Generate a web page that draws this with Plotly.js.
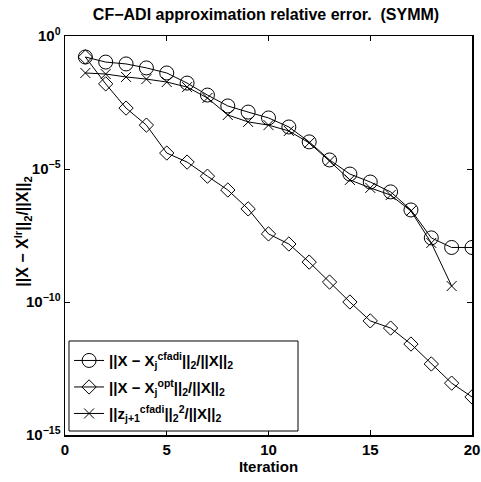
<!DOCTYPE html>
<html>
<head>
<meta charset="utf-8">
<script src="https://cdn.plot.ly/plotly-3.0.1.min.js"></script>
<style>html,body{margin:0;padding:0;background:#fff;}#chart{width:481px;height:482px;}</style>
</head>
<body>
<div id="chart"></div>
<script>
// Iterations
const iterations = [1,2,3,4,5,6,7,8,9,10,11,12,13,14,15,16,17,18,19,20];
const iterationsZ = [1,2,3,4,5,6,7,8,9,10,11,12,13,14,15,16,17,18,19];
// log10 of relative errors
const log10Cfadi = [-0.79,-0.98,-1.05,-1.20,-1.39,-1.77,-2.22,-2.63,-2.86,-3.08,-3.42,-3.98,-4.66,-5.19,-5.49,-5.86,-6.54,-7.59,-7.95,-7.95];
const log10Opt   = [-0.79,-1.80,-2.71,-3.35,-4.40,-4.74,-5.27,-5.79,-6.50,-7.44,-7.82,-8.50,-9.25,-10.00,-10.71,-10.98,-11.58,-12.33,-13.05,-13.57];
const log10Z     = [-1.39,-1.43,-1.54,-1.62,-1.73,-1.92,-2.33,-2.97,-3.23,-3.35,-3.57,-4.02,-4.70,-5.41,-5.71,-5.98,-6.58,-7.78,-9.40];
const seriesNames = [
  '||X − X<sub>j</sub><sup>cfadi</sup>||<sub>2</sub>/||X||<sub>2</sub>',
  '||X − X<sub>j</sub><sup>opt</sup>||<sub>2</sub>/||X||<sub>2</sub>',
  '||z<sub>j+1</sub><sup>cfadi</sup>||<sub>2</sub><sup>2</sup>/||X||<sub>2</sub>'
];
const yTickVals = [1e0, 1e-5, 1e-10, 1e-15];
const yTickText = ['10<sup>0</sup>', '10<sup>−5</sup>', '10<sup>−10</sup>', '10<sup>−15</sup>'];
const xTickVals = [0,5,10,15,20];

const toVal = a => a.map(v => Math.pow(10, v));
const font = {family: '"Liberation Sans", Arial, sans-serif', color: '#000'};

const traces = [
  {x: iterations, y: toVal(log10Cfadi), name: seriesNames[0], legendgroup: 'a', mode: 'lines+markers',
   line: {color: '#000', width: 1},
   marker: {symbol: 'circle-open', size: 14, color: '#000', line: {width: 1, color: '#000'}}},
  {x: iterations, y: toVal(log10Opt), name: seriesNames[1], legendgroup: 'b', mode: 'lines+markers',
   line: {color: '#000', width: 1},
   marker: {symbol: 'diamond-open', size: 11, color: '#000', line: {width: 1, color: '#000'}}},
  {x: iterationsZ, y: toVal(log10Z), name: seriesNames[2], legendgroup: 'c', mode: 'lines+markers',
   line: {color: '#000', width: 1},
   marker: {symbol: 'x-thin-open', size: 10, color: '#000', line: {width: 1, color: '#000'}}}
];
traces.forEach(t => { t.name = '<b>' + t.name + '</b>'; });

const layout = {
  width: 481, height: 482,
  margin: {l: 65, r: 9, t: 36, b: 47},
  paper_bgcolor: '#fff', plot_bgcolor: '#fff',
  font: Object.assign({size: 14}, font),
  showlegend: true,
  title: {text: '<b>CF−ADI approximation relative error.  (SYMM)</b>', x: 0.553, xanchor: 'center', y: 0.971, yanchor: 'middle',
          font: Object.assign({size: 16}, font)},
  xaxis: {range: [0, 20], tickvals: xTickVals, ticktext: xTickVals.map(v => '<b>' + v + '</b>'),
          ticks: 'inside', ticklen: 5, tickwidth: 1, tickcolor: '#000',
          showline: true, linecolor: '#000', linewidth: 1.5, mirror: 'ticks', showgrid: false, zeroline: false,
          tickfont: Object.assign({size: 15}, font),
          title: {text: '<b>Iteration</b>', font: Object.assign({size: 15}, font), standoff: 1}},
  yaxis: {type: 'log', range: [-15, 0], tickvals: yTickVals,
          ticktext: yTickText.map(t => '<b>' + t + '</b>'),
          ticks: 'inside', ticklen: 5, tickwidth: 1, tickcolor: '#000',
          showline: true, linecolor: '#000', linewidth: 1.5, mirror: 'ticks', showgrid: false, zeroline: false,
          tickfont: Object.assign({size: 15}, font)},
  legend: {x: 0.01, y: 0.012, xanchor: 'left', yanchor: 'bottom', bgcolor: 'rgba(0,0,0,0)',
           borderwidth: 0, font: Object.assign({size: 15}, font),
           tracegroupgap: 4, itemwidth: 30},
  shapes: [{type: 'rect', xref: 'paper', yref: 'paper', x0: 0.0098, x1: 0.5725, y0: 0.01, y1: 0.2356,
            layer: 'above', fillcolor: '#fff', line: {color: '#000', width: 1}}],
  annotations: [{xref: 'paper', yref: 'paper', x: -0.105, y: 0.51, xanchor: 'center', yanchor: 'middle',
                 textangle: -90, showarrow: false,
                 text: '<b>||X − X<sup>lr</sup>||<sub>2</sub>/||X||<sub>2</sub></b>',
                 font: Object.assign({size: 16}, font)}]
};

Plotly.newPlot('chart', traces, layout, {displayModeBar: false, staticPlot: true});
</script>
</body>
</html>
